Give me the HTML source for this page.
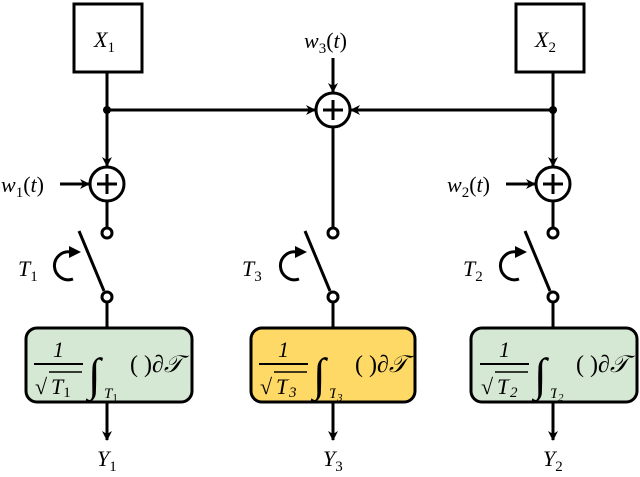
<!DOCTYPE html>
<html><head><meta charset="utf-8"><style>
body{margin:0;background:#fff}
svg text{font-family:"Liberation Serif",serif;font-style:italic;fill:#000}
</style></head><body>
<svg width="640" height="472" viewBox="0 0 640 472" xmlns="http://www.w3.org/2000/svg">
<defs>
<marker id="ah" markerWidth="10" markerHeight="10" refX="9" refY="5" orient="auto" markerUnits="userSpaceOnUse">
<path d="M0,0 L10,5 L0,10 L3,5 Z" fill="#000"/></marker>
<g id="sw" fill="none" stroke="#000" stroke-width="3">
<circle cx="0" cy="233" r="5" fill="#fff"/>
<line x1="-28" y1="231" x2="-3" y2="291"/>
<circle cx="0" cy="297" r="5" fill="#fff"/>
<line x1="0" y1="302" x2="0" y2="327"/>
<path d="M-34,279 A14,14 0 1 1 -36,252"/>
<path d="M-38,246 L-26,252 L-38,258 Z" fill="#000" stroke="none"/>
<line x1="0" y1="403" x2="0" y2="440" marker-end="url(#ah)"/>
</g>
</defs>
<g stroke="#000" stroke-width="3" fill="none">
<rect x="74" y="4" width="68" height="68" fill="#fff"/>
<rect x="516" y="4" width="68" height="68" fill="#fff"/>
<line x1="107" y1="72" x2="107" y2="166" marker-end="url(#ah)"/>
<line x1="553" y1="72" x2="553" y2="166" marker-end="url(#ah)"/>
<line x1="107" y1="110" x2="315" y2="110" marker-end="url(#ah)"/>
<line x1="553" y1="110" x2="351" y2="110" marker-end="url(#ah)"/>
<line x1="333" y1="58" x2="333" y2="92" marker-end="url(#ah)"/>
<line x1="60" y1="184" x2="89" y2="184" marker-end="url(#ah)"/>
<line x1="506" y1="184" x2="535" y2="184" marker-end="url(#ah)"/>
<circle cx="107" cy="184" r="17" fill="#fff"/>
<circle cx="553" cy="184" r="17" fill="#fff"/>
<circle cx="333" cy="110" r="17" fill="#fff"/>
<path d="M107,174v20M97,184h20M553,174v20M543,184h20M333,100v20M323,110h20"/>
<line x1="107" y1="201" x2="107" y2="228"/>
<line x1="553" y1="201" x2="553" y2="228"/>
<line x1="333" y1="127" x2="333" y2="228"/>
<rect x="26" y="328" width="166" height="74" rx="11" fill="#d5e8d4"/>
<rect x="251" y="328" width="164" height="74" rx="11" fill="#ffd966"/>
<rect x="471" y="328" width="166" height="74" rx="11" fill="#d5e8d4"/>
</g>
<circle cx="107" cy="110" r="4" fill="#000"/>
<circle cx="553" cy="110" r="4" fill="#000"/>
<use href="#sw" x="107"/><use href="#sw" x="333"/><use href="#sw" x="553"/>
<g font-size="22">
<text x="94" y="47">X<tspan font-style="normal" font-size="15" dy="5">1</tspan></text>
<text x="535" y="47">X<tspan font-style="normal" font-size="15" dy="5">2</tspan></text>
<text x="304" y="48">w<tspan font-style="normal" font-size="15" dy="5">3</tspan><tspan font-style="normal" dy="-5">(</tspan>t<tspan font-style="normal">)</tspan></text>
<text x="1" y="192">w<tspan font-style="normal" font-size="15" dy="5">1</tspan><tspan font-style="normal" dy="-5">(</tspan>t<tspan font-style="normal">)</tspan></text>
<text x="447" y="192">w<tspan font-style="normal" font-size="15" dy="5">2</tspan><tspan font-style="normal" dy="-5">(</tspan>t<tspan font-style="normal">)</tspan></text>
<text x="18" y="276">T<tspan font-style="normal" font-size="15" dy="5">1</tspan></text>
<text x="242" y="276">T<tspan font-style="normal" font-size="15" dy="5">3</tspan></text>
<text x="463" y="276">T<tspan font-style="normal" font-size="15" dy="5">2</tspan></text>
<text x="97" y="466">Y<tspan font-style="normal" font-size="15" dy="5">1</tspan></text>
<text x="323" y="466">Y<tspan font-style="normal" font-size="15" dy="5">3</tspan></text>
<text x="543" y="466">Y<tspan font-style="normal" font-size="15" dy="5">2</tspan></text>
</g>
<g id="f1">
<text x="53" y="357" font-size="22" font-style="normal">1</text>
<line x1="34" y1="364" x2="83" y2="364" stroke="#000" stroke-width="2"/>
<text x="35" y="394" font-size="22" font-style="normal">√</text><line x1="49" y1="372" x2="82" y2="372" stroke="#000" stroke-width="1.5"/>
<text x="51" y="394" font-size="22">T<tspan font-style="normal" font-size="15" dy="3">1</tspan></text>
<text x="88" y="390" font-size="46">∫</text>
<text x="104" y="398" font-size="15">T<tspan font-style="normal" font-size="11" dy="3">1</tspan></text>
<text x="130" y="372" font-size="24"><tspan font-style="normal">( )</tspan>∂𝒯</text>
</g>
<use href="#f1" x="225"/>
<use href="#f1" x="446"/>
<rect x="288" y="380" width="12" height="18" fill="#ffd966"/>
<text x="289" y="397" font-size="15" font-style="normal">3</text>
<rect x="336" y="386" width="10" height="14" fill="#ffd966"/>
<text x="337" y="401" font-size="11" font-style="normal">3</text>
<rect x="509" y="380" width="12" height="18" fill="#d5e8d4"/>
<text x="510" y="397" font-size="15" font-style="normal">2</text>
<rect x="557" y="386" width="10" height="14" fill="#d5e8d4"/>
<text x="558" y="401" font-size="11" font-style="normal">2</text>
</svg>
</body></html>
